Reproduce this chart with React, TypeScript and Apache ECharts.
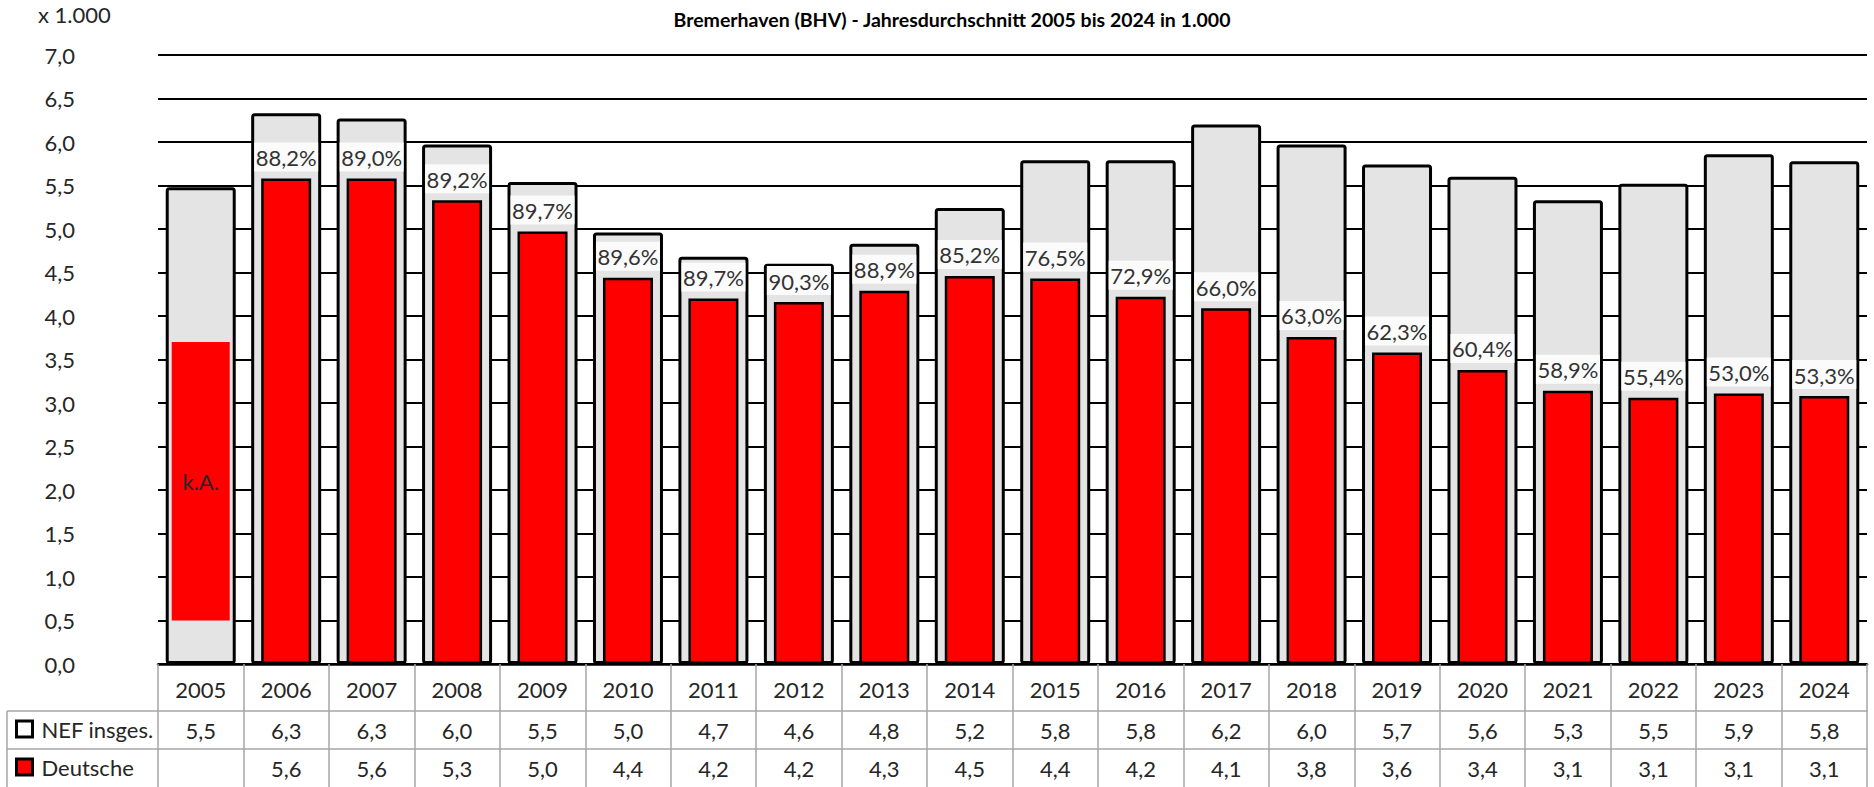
import React, { useEffect, useRef } from "react";
import * as echarts from "echarts";

const years = ["2005","2006","2007","2008","2009","2010","2011","2012","2013","2014","2015","2016","2017","2018","2019","2020","2021","2022","2023","2024"];
const nefTotal = [5.48, 6.33, 6.27, 5.97, 5.54, 4.96, 4.68, 4.60, 4.83, 5.24, 5.79, 5.79, 6.20, 5.97, 5.74, 5.60, 5.33, 5.52, 5.86, 5.78];
const deutsche = [null, 5.58, 5.58, 5.33, 4.97, 4.44, 4.20, 4.16, 4.29, 4.46, 4.43, 4.22, 4.09, 3.76, 3.58, 3.38, 3.14, 3.06, 3.11, 3.08];
const shareLabels = ["", "88,2%", "89,0%", "89,2%", "89,7%", "89,6%", "89,7%", "90,3%", "88,9%", "85,2%", "76,5%", "72,9%", "66,0%", "63,0%", "62,3%", "60,4%", "58,9%", "55,4%", "53,0%", "53,3%"];
const nefTable = ["5,5","6,3","6,3","6,0","5,5","5,0","4,7","4,6","4,8","5,2","5,8","5,8","6,2","6,0","5,7","5,6","5,3","5,5","5,9","5,8"];
const deTable = ["","5,6","5,6","5,3","5,0","4,4","4,2","4,2","4,3","4,5","4,4","4,2","4,1","3,8","3,6","3,4","3,1","3,1","3,1","3,1"];
const kaBase = [0.5, null, null, null, null, null, null, null, null, null, null, null, null, null, null, null, null, null, null, null];
const kaValue = [3.2, null, null, null, null, null, null, null, null, null, null, null, null, null, null, null, null, null, null, null];

const FONT = 'Lato, "Liberation Sans", sans-serif';
const TXT = "#262626";
const GRIDGRAY = "#a6a6a6";

export default function App() {
  const ref = useRef<HTMLDivElement>(null);
  useEffect(() => {
    const chart = echarts.init(ref.current!, null, { renderer: "svg" });
    const hiddenCat = (d: string[]) => ({ type: "category", data: d, show: false, gridIndex: 0 });
    chart.setOption({
      animation: false,
      textStyle: { fontFamily: FONT },
      grid: { left: 158, right: 7, top: 55, bottom: 123, containLabel: false },
      legend: [
        {
          left: 15, top: 718, padding: 0, itemWidth: 16, itemHeight: 16, itemGap: 0, selectedMode: false,
          textStyle: { fontSize: 22, color: TXT, fontFamily: FONT, padding: [0, 0, 0, 4] },
          data: [{ name: "NEF insges.", icon: "rect", itemStyle: { color: "#ffffff", borderColor: "#000", borderWidth: 3 } }],
        },
        {
          left: 15, top: 756, padding: 0, itemWidth: 16, itemHeight: 16, itemGap: 0, selectedMode: false,
          textStyle: { fontSize: 22, color: TXT, fontFamily: FONT, padding: [0, 0, 0, 4] },
          data: [{ name: "Deutsche", icon: "rect", itemStyle: { color: "#ff0000", borderColor: "#000", borderWidth: 3 } }],
        },
      ],
      xAxis: [
        {
          type: "category", data: years, position: "bottom",
          axisLine: { lineStyle: { color: "#000", width: 2.5 } },
          axisTick: { show: true, length: 47, interval: 0, alignWithLabel: false, lineStyle: { color: GRIDGRAY, width: 1.5 } },
          axisLabel: { interval: 0, margin: 25, verticalAlign: "middle", fontSize: 22, color: TXT, fontFamily: FONT },
        },
        hiddenCat(years),
        hiddenCat(years),
        {
          type: "category", data: nefTable, position: "bottom", offset: 47,
          axisLine: { lineStyle: { color: GRIDGRAY, width: 1.5 } },
          axisTick: { show: true, length: 38, interval: 0, lineStyle: { color: GRIDGRAY, width: 1.5 } },
          axisLabel: { interval: 0, margin: 19, verticalAlign: "middle", fontSize: 22, color: TXT, fontFamily: FONT },
        },
        {
          type: "category", data: deTable, position: "bottom", offset: 85,
          axisLine: { lineStyle: { color: GRIDGRAY, width: 1.5 } },
          axisTick: { show: true, length: 40, interval: 0, lineStyle: { color: GRIDGRAY, width: 1.5 } },
          axisLabel: { interval: 0, margin: 19, verticalAlign: "middle", fontSize: 22, color: TXT, fontFamily: FONT },
        },
      ],
      yAxis: {
        type: "value", min: 0, max: 7, interval: 0.5,
        axisLine: { show: false }, axisTick: { show: false },
        splitLine: { lineStyle: { color: "#000", width: 2 } },
        axisLabel: {
          margin: 83, fontSize: 22, color: TXT, fontFamily: FONT,
          formatter: (v: number) => v.toFixed(1).replace(".", ","),
        },
      },
      series: [
        {
          name: "NEF insges.", type: "bar", xAxisIndex: 0, data: nefTotal, barWidth: 70,
          itemStyle: { color: "#e4e4e4", borderColor: "#000", borderWidth: 3, borderRadius: 2 },
        },
        {
          name: "Deutsche", type: "bar", xAxisIndex: 1, data: deutsche, barWidth: 50,
          itemStyle: { color: "#ff0000", borderColor: "#000", borderWidth: 2.5 },
          label: {
            show: true, position: "top", distance: 7,
            formatter: (p: any) => shareLabels[p.dataIndex],
            fontSize: 22, color: "#333", fontFamily: FONT,
            backgroundColor: "#fbfbfb", width: 62, align: "center", padding: [4, 1, 3, 1],
          },
        },
        {
          name: "kaBase", type: "bar", xAxisIndex: 2, stack: "ka", data: kaBase, barWidth: 58, silent: true,
          itemStyle: { color: "rgba(0,0,0,0)" },
        },
        {
          name: "k.A.", type: "bar", xAxisIndex: 2, stack: "ka", data: kaValue, barWidth: 58,
          itemStyle: { color: "#ff0000" },
          label: { show: true, position: "inside", formatter: "k.A.", fontSize: 22, color: TXT, fontFamily: FONT },
        },
      ],
      graphic: [
        { type: "text", left: 38, top: 3, style: { text: "x 1.000", fontSize: 22, fill: TXT, fontFamily: FONT } },
        { type: "text", x: 952, y: 19, style: { text: "Bremerhaven (BHV) - Jahresdurchschnitt 2005 bis 2024 in 1.000", fontSize: 19.5, fontWeight: "bold", fill: "#000", fontFamily: FONT, textAlign: "center", textVerticalAlign: "middle" } },
        { type: "line", shape: { x1: 7, y1: 711, x2: 158, y2: 711 }, style: { stroke: GRIDGRAY, lineWidth: 1.5 } },
        { type: "line", shape: { x1: 7, y1: 749, x2: 158, y2: 749 }, style: { stroke: GRIDGRAY, lineWidth: 1.5 } },
        { type: "line", shape: { x1: 7, y1: 711, x2: 7, y2: 787 }, style: { stroke: GRIDGRAY, lineWidth: 1.5 } },
      ],
    });
    return () => chart.dispose();
  }, []);
  return <div ref={ref} style={{ position: "fixed", left: 0, top: 0, width: 1874, height: 787, background: "#fff" }} />;
}
